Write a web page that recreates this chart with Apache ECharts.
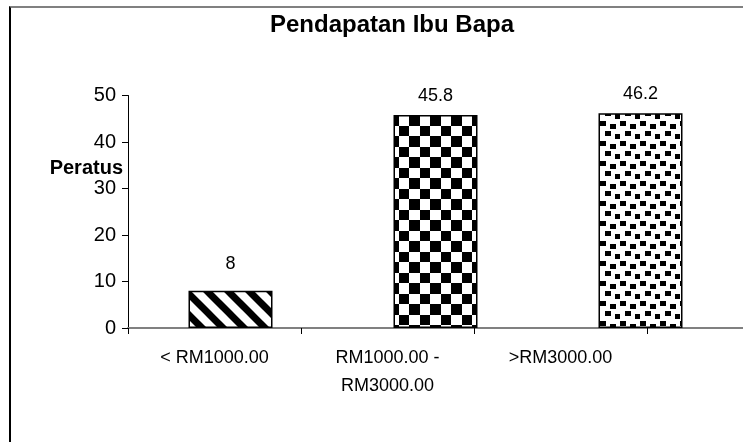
<!DOCTYPE html>
<html>
<head>
<meta charset="utf-8">
<style>
  html, body { margin: 0; padding: 0; background: #fff; }
  #chart { position: absolute; left: 0; top: 0; width: 743px; height: 442px; }
  #frame {
    position: absolute; left: 9px; top: 6px; width: 800px; height: 500px;
    border-top: 2px solid #808080; border-left: 2px solid #000; pointer-events: none;
  }
</style>
<script src="https://cdn.jsdelivr.net/npm/echarts@6/dist/echarts.min.js"></script>
</head>
<body>
<div id="chart"></div>
<div id="frame"></div>
<script>
const categories = ['< RM1000.00', 'RM1000.00 -\nRM3000.00', '>RM3000.00']
const values = [8, 45.8, 46.2]
const yMin = 0
const yMax = 50
const yStep = 10

const font = '"Liberation Sans", Arial, sans-serif'
// label gap above each bar (the tall ones sit closer, as in the original)
const labelGap = [18, 10, 10]

// small canvas tiles used as fill patterns for the bars
const makeTile = (size, draw) => {
  const c = document.createElement('canvas')
  c.width = size
  c.height = size
  const ctx = c.getContext('2d')
  ctx.fillStyle = '#fff'
  ctx.fillRect(0, 0, size, size)
  ctx.fillStyle = '#000'
  ctx.strokeStyle = '#000'
  draw(ctx, size)
  return c
}

const stripes = makeTile(21, (ctx, s) => {
  ctx.lineWidth = 7
  for (const o of [-s, 0, s]) {
    ctx.beginPath()
    ctx.moveTo(o - s, -s)
    ctx.lineTo(o + 2 * s, 2 * s)
    ctx.stroke()
  }
})

const checker = makeTile(21, (ctx) => {
  ctx.fillRect(0, 0, 10, 10)
  ctx.fillRect(10, 10, 11, 11)
})

const dots = makeTile(20, (ctx) => {
  const pts = [[0, 1], [10, 4], [5, 11], [15, 14]]
  pts.forEach(([x, y]) => ctx.fillRect(x, y, 6, 5))
})

const patterns = [stripes, checker, dots]

const chart = echarts.init(document.getElementById('chart'))

const option = {
  animation: false,
  textStyle: { fontFamily: font },
  graphic: [
    {
      type: 'text',
      x: 392,
      y: 25,
      style: {
        text: 'Pendapatan Ibu Bapa',
        font: 'bold 24px ' + font,
        fill: '#000',
        align: 'center',
        verticalAlign: 'middle',
      },
    },
    {
      type: 'text',
      x: 123,
      y: 168,
      z: 10,
      style: {
        text: 'Peratus',
        font: 'bold 20px ' + font,
        fill: '#000',
        align: 'right',
        verticalAlign: 'middle',
      },
    },
  ],
  grid: [
    { left: 128, right: -6, top: 95.5, bottom: 114 },
    { left: 128, width: 519, top: 95.5, bottom: 114 },
  ],
  xAxis: [
    {
      type: 'category',
      gridIndex: 0,
      data: categories,
      axisLine: { lineStyle: { color: '#808080', width: 2 } },
      axisTick: { show: false },
      axisLabel: { show: false },
    },
    {
      type: 'category',
      gridIndex: 1,
      data: categories,
      axisLine: { show: false },
      axisTick: { show: true, length: 6, lineStyle: { color: '#000' } },
      axisLabel: {
        color: '#000',
        fontSize: 18,
        lineHeight: 28,
        margin: 16,
        fontFamily: font,
      },
    },
  ],
  yAxis: [
    {
      type: 'value',
      gridIndex: 0,
      min: yMin,
      max: yMax,
      interval: yStep,
      axisLine: { show: true, lineStyle: { color: '#000' } },
      axisTick: { show: true, length: 6, lineStyle: { color: '#000' } },
      axisLabel: { color: '#000', fontSize: 20, margin: 12, fontFamily: font },
      splitLine: { show: false },
    },
    {
      type: 'value',
      gridIndex: 1,
      min: yMin,
      max: yMax,
      show: false,
    },
  ],
  series: [
    {
      type: 'bar',
      xAxisIndex: 0,
      yAxisIndex: 0,
      barWidth: 84,
      data: values.map((v, i) => ({
        value: v,
        itemStyle: {
          color: { image: patterns[i], repeat: 'repeat' },
          borderColor: '#000',
          borderWidth: 1.5,
        },
        label: { distance: labelGap[i] },
      })),
      label: {
        show: true,
        position: 'top',
        color: '#000',
        fontSize: 18,
        fontFamily: font,
      },
    },
  ],
}

chart.setOption(option)
</script>
</body>
</html>
